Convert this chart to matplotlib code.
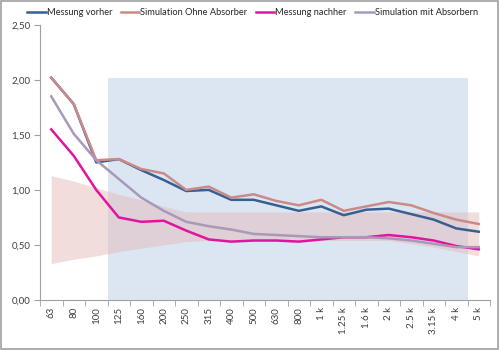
import matplotlib.pyplot as plt
from matplotlib.patches import Rectangle
import numpy as np

plt.rcParams['font.family'] = ['Lato', 'DejaVu Sans']

freqs = ['63', '80', '100', '125', '160', '200', '250', '315', '400', '500',
         '630', '800', '1 k', '1.25 k', '1.6 k', '2 k', '2.5 k', '3.15 k', '4 k', '5 k']

messung_vorher = [2.02, 1.78, 1.25, 1.28, 1.18, 1.09, 0.99, 1.00, 0.91, 0.91,
                  0.86, 0.81, 0.85, 0.77, 0.82, 0.83, 0.78, 0.73, 0.65, 0.62]
sim_ohne = [2.02, 1.78, 1.27, 1.28, 1.19, 1.15, 1.00, 1.03, 0.93, 0.96,
            0.90, 0.86, 0.91, 0.81, 0.85, 0.89, 0.86, 0.79, 0.73, 0.69]
messung_nachher = [1.55, 1.31, 1.00, 0.75, 0.71, 0.72, 0.63, 0.55, 0.53, 0.54,
                   0.54, 0.53, 0.55, 0.57, 0.57, 0.59, 0.57, 0.54, 0.49, 0.46]
sim_mit = [1.85, 1.51, 1.27, 1.10, 0.93, 0.81, 0.71, 0.67, 0.64, 0.60,
           0.59, 0.58, 0.57, 0.57, 0.57, 0.56, 0.54, 0.51, 0.48, 0.48]

# tolerance band
band_upper = [1.13, 1.08, 1.02, 0.96, 0.91, 0.85, 0.80, 0.80, 0.80, 0.80,
              0.80, 0.80, 0.80, 0.80, 0.80, 0.80, 0.80, 0.80, 0.80, 0.80]
band_lower = [0.33, 0.37, 0.40, 0.44, 0.47, 0.50, 0.53, 0.54, 0.54, 0.54,
              0.54, 0.54, 0.54, 0.54, 0.54, 0.54, 0.51, 0.48, 0.44, 0.40]

# highlighted range (125 Hz .. 4 kHz)
range_height = 2.02

x = np.arange(len(freqs))

fig = plt.figure(figsize=(5, 3.5), dpi=100)
ax = fig.add_axes([0.08, 0.143, 0.90, 0.786])

ax.add_patch(Rectangle((2.5, 0), 16, range_height, facecolor='#DCE6F2',
                       edgecolor='none', zorder=0))
ax.fill_between(x, band_lower, band_upper, color='#E3B5B4', alpha=0.45,
                linewidth=0, zorder=1)

ax.plot(x, messung_vorher, color='#376092', lw=1.8, label='Messung vorher', zorder=3)
ax.plot(x, sim_ohne, color='#C98A88', lw=1.8, label='Simulation Ohne Absorber', zorder=3)
ax.plot(x, messung_nachher, color='#E0149E', lw=1.8, label='Messung nachher', zorder=3)
ax.plot(x, sim_mit, color='#A899BA', lw=1.8, label='Simulation mit Absorbern', zorder=3)

ax.set_xlim(-0.5, len(freqs) - 0.5)
ax.set_ylim(0, 2.5)
ax.set_yticks(np.arange(0, 2.51, 0.5))
ax.set_yticklabels([f'{v:.2f}'.replace('.', ',') for v in np.arange(0, 2.51, 0.5)],
                   fontsize=7, color='#404040')
ax.set_xticks(x)
ax.set_xticklabels(freqs, rotation=90, fontsize=7, color='#404040')
ax.set_xticks(np.arange(-0.5, len(freqs)), minor=True)
ax.tick_params(axis='x', which='major', length=0, pad=5)
ax.tick_params(axis='x', which='minor', length=4, color='#A0A0A0')
ax.tick_params(axis='y', length=4, color='#A0A0A0', pad=3)

for s in ['top', 'right']:
    ax.spines[s].set_visible(False)
for s in ['left', 'bottom']:
    ax.spines[s].set_color('#A0A0A0')
    ax.spines[s].set_linewidth(0.8)

fig.legend(loc='upper center', bbox_to_anchor=(0.505, 1.0), ncol=4, frameon=False,
           fontsize=6.7, handlelength=2.0, handletextpad=0.1, columnspacing=0.9,
           labelcolor='#262626')

fig.patches.append(Rectangle((0.002, 0.003), 0.994, 0.994, transform=fig.transFigure,
                             fill=False, edgecolor='#A0A0A0', lw=1.2))

fig.savefig('out.png', dpi=100)
